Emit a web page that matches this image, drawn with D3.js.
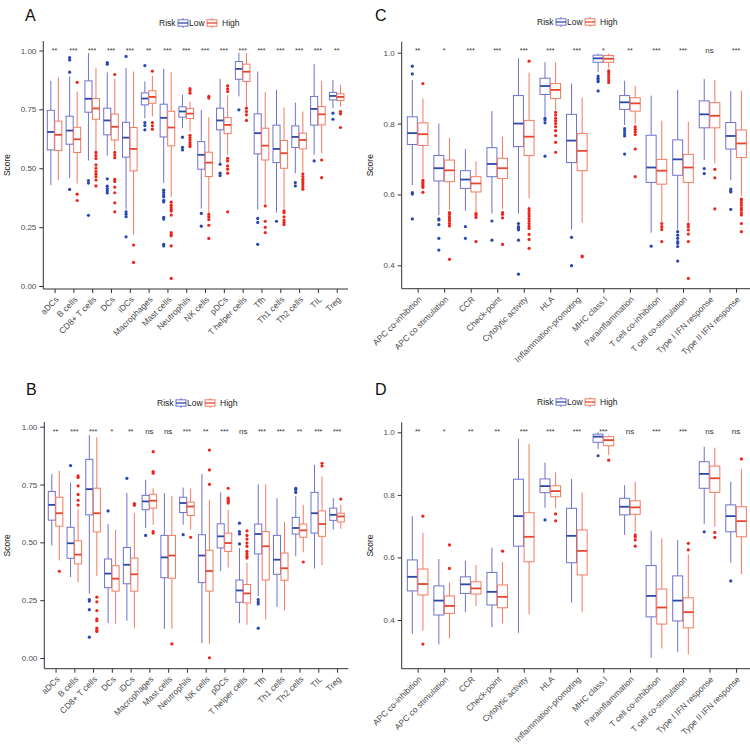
<!DOCTYPE html>
<html><head><meta charset="utf-8">
<script src="https://cdn.jsdelivr.net/npm/d3@7"></script>
<style>body{margin:0;background:#fff} text{font-family:"Liberation Sans",Arial,Helvetica,sans-serif}</style>
</head><body><svg id="c" width="750" height="747"></svg>
<script>
// ---------- categories ----------
const catsImmune = ["aDCs","B cells","CD8+ T cells","DCs","iDCs","Macrophages","Mast cells","Neutrophils","NK cells","pDCs","T helper cells","Tfh","Th1 cells","Th2 cells","TIL","Treg"];
const catsFunc = ["APC co-inhibition","APC co stimulation","CCR","Check-point","Cytolytic activity","HLA","Inflammation-promoting","MHC class I","Parainflammation","T cell co-inhibition","T cell co-stimulation","Type I IFN response","Type II IFN response"];
const groups = ["Low","High"];

// ---------- significance labels ----------
const sigA = ["**","***","***","***","***","**","***","***","***","***","***","***","***","***","***","**"];
const sigB = ["**","***","***","*","**","ns","ns","***","**","***","ns","***","***","**","***","***"];
const sigC = ["**","*","***","***","***","***","***","*","**","***","***","ns","***"];
const sigD = ["**","*","**","**","***","***","***","***","ns","***","***","ns","ns"];

// ---------- box stats: [whiskerLow, q1, median, q3, whiskerHigh] ----------
const lowA = [[0.428,0.578,0.654,0.746,0.871],[0.458,0.602,0.66,0.721,0.89],[0.533,0.738,0.795,0.871,0.989],[0.554,0.642,0.703,0.755,0.907],[0.325,0.547,0.63,0.695,0.925],[0.712,0.769,0.796,0.82,0.868],[0.438,0.633,0.714,0.772,0.922],[0.67,0.717,0.741,0.761,0.812],[0.329,0.496,0.557,0.613,0.748],[0.521,0.663,0.703,0.755,0.88],[0.805,0.878,0.922,0.953,0.99],[0.325,0.561,0.649,0.731,0.911],[0.312,0.524,0.582,0.683,0.833],[0.479,0.588,0.633,0.68,0.779],[0.557,0.683,0.752,0.805,0.942],[0.755,0.79,0.807,0.822,0.875]];
const lowOutA = [[],[0.97,0.96,0.908,0.41],[0.448,0.437,0.30],[0.949,0.942,0.455,0.424,0.414,0.404,0.395],[0.975,0.315,0.305,0.294,0.209],[0.936,0.694,0.681,0.663],[0.407,0.397,0.386,0.379,0.364,0.357,0.291,0.284,0.177,0.17],[0.632,0.589,0.578],[0.308,0.254],[0.517,0.479,0.469],[0.748],[0.287,0.27,0.177],[0.275],[0.439,0.425],[0.531],[0.734,0.708]];
const highA = [[0.45,0.575,0.642,0.70,0.885],[0.435,0.567,0.623,0.674,0.826],[0.571,0.708,0.754,0.796,0.925],[0.578,0.62,0.676,0.73,0.88],[0.219,0.489,0.582,0.673,0.911],[0.72,0.776,0.803,0.829,0.892],[0.378,0.595,0.673,0.742,0.908],[0.656,0.711,0.732,0.754,0.783],[0.308,0.465,0.524,0.568,0.717],[0.557,0.647,0.684,0.715,0.81],[0.762,0.868,0.91,0.942,0.99],[0.35,0.535,0.596,0.67,0.823],[0.329,0.5,0.564,0.618,0.758],[0.486,0.582,0.62,0.649,0.741],[0.564,0.684,0.729,0.762,0.871],[0.762,0.788,0.803,0.816,0.854]];
const highOutA = [[],[0.865,0.39,0.363],[0.567,0.554,0.541,0.514,0.50,0.486,0.475,0.464,0.45,0.425],[0.898,0.568,0.557,0.545,0.453,0.444,0.42,0.396,0.353,0.315],[0.174,0.10],[0.912,0.694,0.68,0.666],[0.356,0.343,0.333,0.325,0.318,0.301,0.227,0.22,0.213,0.17,0.032],[0.838,0.83,0.819,0.64,0.63,0.62,0.609,0.6,0.592],[0.805,0.798,0.304,0.294,0.282,0.258,0.202],[0.85,0.837,0.826,0.542,0.531,0.51,0.496,0.479,0.315],[0.755,0.741,0.727,0.703],[0.34,0.275,0.249,0.227],[0.319,0.311,0.294,0.28,0.27,0.261],[0.476,0.465,0.453,0.443,0.433,0.422,0.411],[0.535,0.46],[0.741,0.731,0.673]];

const lowB = [[0.486,0.596,0.662,0.72,0.795],[0.35,0.431,0.496,0.565,0.759],[0.278,0.619,0.73,0.859,0.964],[0.151,0.304,0.365,0.428,0.58],[0.161,0.321,0.403,0.478,0.713],[0.562,0.641,0.677,0.703,0.77],[0.126,0.347,0.435,0.53,0.713],[0.576,0.629,0.67,0.695,0.737],[0.064,0.326,0.443,0.533,0.796],[0.376,0.476,0.526,0.58,0.716],[0.151,0.241,0.292,0.337,0.476],[0.267,0.45,0.536,0.579,0.751],[0.221,0.362,0.425,0.53,0.691],[0.44,0.536,0.562,0.608,0.70],[0.387,0.54,0.626,0.716,0.835],[0.555,0.595,0.619,0.648,0.691]];
const lowOutB = [[],[0.832],[0.253,0.246,0.209,0.09],[0.636],[0.777],[0.53],[],[0.533],[],[],[0.583,0.547,0.536,0.493],[0.253,0.243,0.234,0.129],[],[0.734,0.727,0.716],[],[]];
const highB = [[0.422,0.57,0.626,0.695,0.809],[0.328,0.407,0.447,0.507,0.645],[0.355,0.545,0.626,0.734,0.954],[0.148,0.289,0.343,0.399,0.555],[0.129,0.289,0.362,0.432,0.626],[0.576,0.648,0.68,0.708,0.734],[0.126,0.345,0.443,0.53,0.701],[0.555,0.616,0.655,0.674,0.733],[0.06,0.289,0.376,0.466,0.684],[0.391,0.461,0.497,0.54,0.641],[0.144,0.238,0.279,0.318,0.411],[0.166,0.337,0.483,0.547,0.751],[0.206,0.336,0.388,0.454,0.59],[0.457,0.522,0.552,0.579,0.662],[0.401,0.526,0.579,0.636,0.784],[0.559,0.588,0.612,0.626,0.662]];
const highOutB = [[0.375],[0.787,0.78,0.744,0.707,0.682,0.661],[0.263,0.243,0.205,0.169,0.161,0.129,0.119,0.115],[],[0.667,0.66],[0.892,0.806,0.799,0.547,0.54],[0.061],[0.522],[0.899,0.813,0.751,0.001],[0.734,0.691,0.684,0.677,0.67],[0.55,0.53,0.514,0.497,0.483,0.461,0.451,0.44,0.432],[],[],[0.415],[0.842,0.83],[0.687]];

const lowC = [[0.626,0.741,0.773,0.819,0.923],[0.542,0.638,0.674,0.71,0.80],[0.554,0.617,0.642,0.667,0.728],[0.546,0.65,0.686,0.732,0.835],[0.546,0.735,0.80,0.879,0.984],[0.819,0.882,0.906,0.928,0.973],[0.501,0.69,0.752,0.826,0.913],[0.946,0.973,0.984,0.993,0.998],[0.796,0.84,0.86,0.879,0.921],[0.492,0.634,0.676,0.767,0.879],[0.501,0.654,0.699,0.754,0.895],[0.697,0.788,0.826,0.864,0.926],[0.64,0.728,0.765,0.803,0.892]];
const lowOutC = [[0.962,0.94,0.605,0.601,0.531],[0.531,0.528,0.515,0.476,0.443],[0.509,0.476],[0.525,0.471],[0.518,0.509,0.504,0.50,0.471,0.375],[0.815,0.81,0.802,0.708],[0.479,0.399],[0.934,0.928,0.923,0.918,0.892],[0.786,0.779,0.772,0.765,0.714],[0.454],[0.495,0.485,0.476,0.467,0.462,0.453,0.412],[0.673,0.659],[0.615,0.61,0.607,0.558]];
const highC = [[0.645,0.738,0.77,0.802,0.871],[0.556,0.636,0.668,0.697,0.76],[0.549,0.607,0.631,0.65,0.694],[0.56,0.645,0.674,0.702,0.763],[0.589,0.71,0.763,0.809,0.944],[0.838,0.871,0.895,0.913,0.973],[0.52,0.667,0.723,0.772,0.873],[0.956,0.973,0.983,0.992,0.998],[0.80,0.835,0.857,0.873,0.906],[0.523,0.629,0.667,0.699,0.808],[0.523,0.634,0.676,0.713,0.805],[0.688,0.788,0.822,0.859,0.923],[0.595,0.704,0.744,0.782,0.892]];
const highOutC = [[0.913,0.64,0.635,0.63,0.625,0.62,0.606],[0.549,0.544,0.537,0.531,0.525,0.518,0.511,0.417],[0.546,0.542,0.535,0.467],[0.549,0.544,0.534,0.459],[0.976,0.56,0.553,0.546,0.539,0.532,0.525,0.518,0.511,0.504,0.487,0.473,0.448],[0.832,0.824,0.815,0.808,0.80,0.791,0.78,0.766,0.747,0.719],[0.426,0.424],[0.949,0.944,0.937,0.93,0.923,0.916],[0.791,0.784,0.777,0.769,0.728,0.65],[0.518,0.509,0.501,0.467],[0.516,0.509,0.50,0.488,0.467,0.363],[0.671,0.647,0.559],[0.587,0.584,0.577,0.57,0.562,0.556,0.548,0.542,0.518,0.495]];

const lowD = [[0.355,0.493,0.538,0.592,0.732],[0.322,0.416,0.462,0.509,0.595],[0.425,0.485,0.514,0.538,0.589],[0.377,0.448,0.49,0.552,0.631],[0.359,0.636,0.732,0.85,0.979],[0.759,0.807,0.828,0.851,0.903],[0.456,0.583,0.669,0.757,0.851],[0.947,0.968,0.986,0.994,1.0],[0.672,0.736,0.762,0.789,0.831],[0.279,0.41,0.477,0.574,0.685],[0.297,0.397,0.462,0.541,0.656],[0.707,0.821,0.867,0.906,0.954],[0.583,0.682,0.732,0.768,0.842]];
const lowOutD = [[],[],[],[],[],[0.72],[],[0.925],[],[],[],[0.682],[0.525]];
const highD = [[0.366,0.48,0.515,0.563,0.679],[0.341,0.421,0.445,0.477,0.52],[0.445,0.483,0.501,0.522,0.576],[0.389,0.439,0.474,0.512,0.586],[0.418,0.586,0.666,0.743,0.963],[0.757,0.794,0.812,0.829,0.872],[0.425,0.544,0.621,0.688,0.808],[0.927,0.957,0.975,0.986,0.991],[0.682,0.738,0.76,0.781,0.842],[0.309,0.387,0.44,0.499,0.661],[0.29,0.375,0.425,0.471,0.61],[0.698,0.808,0.853,0.892,0.951],[0.547,0.666,0.716,0.762,0.883]];
const highOutD = [[0.732,0.323],[0.64,0.565],[],[0.62],[],[0.739,0.717],[],[0.911],[0.672,0.666,0.656,0.636],[],[0.645,0.624],[0.68,0.664],[0.915]];

const ticksA = [0,0.25,0.5,0.75,1.0];
const ticksC = [0.4,0.6,0.8,1.0];

// ---------- styling ----------
const lineCol = {Low:"#6e73cc", High:"#f27a62"};
const medCol  = {Low:"#2f47aa", High:"#e8442c"};
const dotCol  = {Low:"#2a46b0", High:"#ec261c"};
const axisCol = "#333";
const textCol = "#4d4d4d";

const svg = d3.select("#c");

function drawPanel(p){
  const g = svg.append("g");
  const x = d3.scalePoint().domain(p.cats).range([p.xL, p.xR]).padding(0.6);
  const step = x.step();
  const y = d3.scaleLinear().domain(p.yDom).range(p.yRng);
  const bw = step*0.4*0.94;
  const off = {Low:-0.2*step, High:0.2*step};

  // panel letter
  g.append("text").attr("x", p.lab[0]).attr("y", p.lab[1]).attr("font-size",16).attr("fill","#111").text(p.letter);

  // legend
  const lg = g.append("g").attr("transform",`translate(${p.leg[0]},${p.leg[1]})`);
  lg.append("text").attr("x",0).attr("y",3).attr("font-size",8.5).attr("fill","#222").text("Risk");
  let lx = 19;
  groups.forEach(gr=>{
    lg.append("line").attr("x1",lx+5).attr("x2",lx+5).attr("y1",-5).attr("y2",5).attr("stroke",lineCol[gr]).attr("stroke-width",1);
    lg.append("rect").attr("x",lx).attr("y",-3.2).attr("width",10).attr("height",6.4).attr("fill","#fff").attr("stroke",lineCol[gr]).attr("stroke-width",1);
    lg.append("line").attr("x1",lx).attr("x2",lx+10).attr("y1",0).attr("y2",0).attr("stroke",medCol[gr]).attr("stroke-width",1.3);
    lg.append("text").attr("x",lx+(gr==="Low"?11:15)).attr("y",3).attr("font-size",8.5).attr("fill","#222").text(gr);
    lx += 29;
  });

  // axes
  const ya = g.append("g").attr("transform",`translate(${p.xL},0)`)
    .call(d3.axisLeft(y).tickValues(p.ticks).tickFormat(d3.format(p.fmt)).tickSize(4).tickSizeOuter(0));
  ya.select(".domain").remove();
  ya.selectAll("line").attr("stroke",axisCol);
  ya.selectAll("text").attr("font-size",8).attr("fill",textCol).attr("font-family","Liberation Sans, Arial, sans-serif");
  g.append("line").attr("x1",p.xL).attr("x2",p.xL).attr("y1",p.top).attr("y2",p.bottom).attr("stroke",axisCol).attr("stroke-width",1);

  const xa = g.append("g").attr("transform",`translate(0,${p.bottom})`)
    .call(d3.axisBottom(x).tickSize(4).tickSizeOuter(0));
  xa.select(".domain").remove();
  xa.selectAll("line").attr("stroke",axisCol);
  xa.selectAll("text").attr("font-size",8.5).attr("fill",textCol)
    .attr("font-family","Liberation Sans, Arial, sans-serif")
    .attr("text-anchor","end").attr("dy","0.35em").attr("y",0)
    .attr("transform","translate(2,9) rotate(-45)");
  g.append("line").attr("x1",p.xL).attr("x2",p.xR).attr("y1",p.bottom).attr("y2",p.bottom).attr("stroke",axisCol).attr("stroke-width",1);

  // y title
  g.append("text").attr("transform",`translate(${p.scoreX},${(p.top+p.bottom)/2}) rotate(-90)`)
    .attr("text-anchor","middle").attr("font-size",8.5).attr("fill","#222").text("Score");

  // significance labels
  g.selectAll(".sig").data(p.sig).enter().append("text")
    .attr("x",(d,i)=>x(p.cats[i])).attr("y",p.top+11.5).attr("text-anchor","middle")
    .attr("font-size",d=>d==="ns"?8:7).attr("fill","#333").text(d=>d);

  // boxes
  const data = {Low:[p.low,p.lowOut], High:[p.high,p.highOut]};
  groups.forEach(gr=>{
    const [stats, outs] = data[gr];
    stats.forEach((s,i)=>{
      const cx = x(p.cats[i]) + off[gr];
      const [lo,q1,md,q3,hi] = s;
      g.append("line").attr("x1",cx).attr("x2",cx).attr("y1",y(hi)).attr("y2",y(q3)).attr("stroke",lineCol[gr]).attr("stroke-width",1);
      g.append("line").attr("x1",cx).attr("x2",cx).attr("y1",y(q1)).attr("y2",y(lo)).attr("stroke",lineCol[gr]).attr("stroke-width",1);
      g.append("rect").attr("x",cx-bw/2).attr("y",y(q3)).attr("width",bw).attr("height",Math.max(0.5,y(q1)-y(q3)))
        .attr("fill","#fff").attr("stroke",lineCol[gr]).attr("stroke-width",1);
      g.append("line").attr("x1",cx-bw/2).attr("x2",cx+bw/2).attr("y1",y(md)).attr("y2",y(md)).attr("stroke",medCol[gr]).attr("stroke-width",1.8);
      outs[i].forEach(v=>{
        g.append("circle").attr("cx",cx).attr("cy",y(v)).attr("r",1.6).attr("fill",dotCol[gr]);
      });
    });
  });
}

drawPanel({letter:"A", lab:[25,21], leg:[159,23], cats:catsImmune, sig:sigA, low:lowA, lowOut:lowOutA, high:highA, highOut:highOutA,
  xL:43.3, xR:348, top:41, bottom:289, yDom:[0,1], yRng:[286,50.5], ticks:ticksA, fmt:".2f", scoreX:10});
drawPanel({letter:"B", lab:[26,395], leg:[157,403], cats:catsImmune, sig:sigB, low:lowB, lowOut:lowOutB, high:highB, highOut:highOutB,
  xL:44.3, xR:348.3, top:422, bottom:668.7, yDom:[0,1], yRng:[658,426.7], ticks:ticksA, fmt:".2f", scoreX:10});
drawPanel({letter:"C", lab:[375,21], leg:[537,22], cats:catsFunc, sig:sigC, low:lowC, lowOut:lowOutC, high:highC, highOut:highOutC,
  xL:401.7, xR:752, top:41.7, bottom:288.7, yDom:[0.4,1.0], yRng:[265.3,52.7], ticks:ticksC, fmt:".1f", scoreX:373});
drawPanel({letter:"D", lab:[375,395], leg:[537,402], cats:catsFunc, sig:sigD, low:lowD, lowOut:lowOutD, high:highD, highOut:highOutD,
  xL:401.7, xR:752, top:422.3, bottom:668.7, yDom:[0.4,1.0], yRng:[620,432.3], ticks:ticksC, fmt:".1f", scoreX:373});
</script></body></html>
